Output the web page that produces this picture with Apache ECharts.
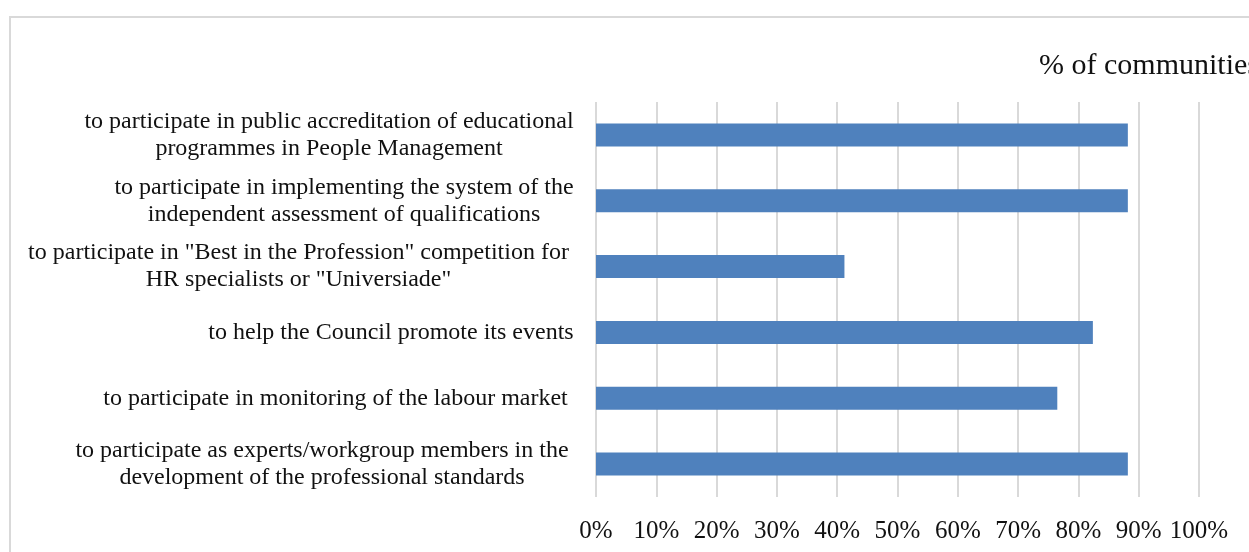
<!DOCTYPE html>
<html><head><meta charset="utf-8">
<script src="https://cdn.jsdelivr.net/npm/echarts@6/dist/echarts.min.js"></script>
<style>html,body{margin:0;padding:0;background:#fff}#c{width:1249px;height:552px}</style>
</head><body><div id="c"></div>
<script>
const titleText = "% of communities";
const categories = [
  "to participate in public accreditation of educational\nprogrammes in People Management",
  "to participate in implementing the system of the\nindependent assessment of qualifications",
  "to participate in \"Best in the Profession\" competition for\nHR specialists or \"Universiade\"",
  "to help the Council promote its events",
  "to participate in monitoring of the labour market",
  "to participate as experts/workgroup members in the\ndevelopment of the professional standards"
];
const values = [88.2, 88.2, 41.2, 82.4, 76.5, 88.2];
const xMin = 0, xMax = 100, xStep = 10;

const FONT = '"Liberation Serif", "Times New Roman", serif';
const LABEL_SIZE = 24;
const labelRightPad = [0, 0, 5, 0, 6, 5];
const cv = document.createElement('canvas').getContext('2d');
cv.font = LABEL_SIZE + 'px "Liberation Serif"';
const rich = {};
categories.forEach((c, i) => {
  const w = Math.max(...c.split('\n').map(l => cv.measureText(l).width));
  rich['l' + i] = {
    width: Math.ceil(w) + 2, align: 'center', fontSize: LABEL_SIZE, fontFamily: FONT,
    color: '#111', lineHeight: 27, padding: [0, labelRightPad[i], 0, 0]
  };
});

const chart = echarts.init(document.getElementById('c'), null, { renderer: 'canvas' });
chart.setOption({
  animation: false,
  backgroundColor: '#fff',
  title: {
    text: titleText, left: 1034, top: 46,
    textStyle: { fontFamily: FONT, fontSize: 30, fontWeight: 'normal', color: '#111' }
  },
  graphic: [{
    type: 'rect', z: -1, silent: true,
    shape: { x: 10, y: 17, width: 1400, height: 700 },
    style: { fill: 'none', stroke: '#d9d9d9', lineWidth: 2 }
  }],
  grid: { left: 596, right: 50, top: 102, bottom: 55, containLabel: false },
  xAxis: {
    type: 'value', min: xMin, max: xMax, interval: xStep,
    axisLine: { show: false }, axisTick: { show: false },
    splitLine: { lineStyle: { color: '#d9d9d9', width: 2 } },
    axisLabel: { formatter: '{value}%', fontFamily: FONT, fontSize: 25, color: '#111', margin: 22 }
  },
  yAxis: {
    type: 'category', inverse: true, data: categories,
    axisLine: { show: false }, axisTick: { show: false },
    axisLabel: {
      margin: 21, interval: 0,
      formatter: (v, i) => v.split('\n').map(l => '{l' + i + '|' + l + '}').join('\n'),
      rich: rich
    }
  },
  series: [{
    type: 'bar', data: values, barWidth: 23,
    itemStyle: { color: '#4f81bd' }
  }]
});
</script></body></html>
